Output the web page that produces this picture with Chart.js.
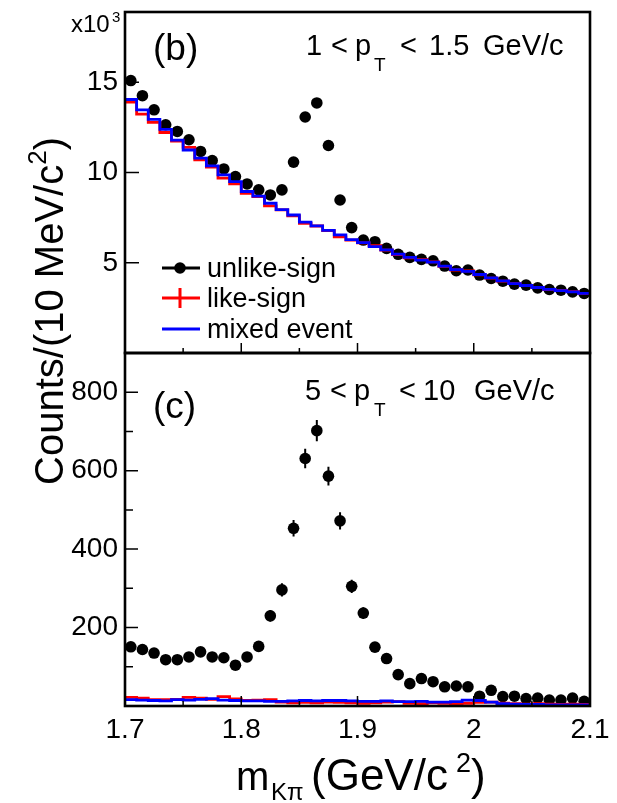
<!DOCTYPE html>
<html>
<head>
<meta charset="utf-8">
<script src="https://cdn.jsdelivr.net/npm/chart.js@4.4.1/dist/chart.umd.min.js"></script>
<style>
  html, body { margin: 0; padding: 0; background: #fff; }
  #wrap { position: relative; width: 617px; height: 803px; }
  canvas { position: absolute; left: 0; top: 0; }
</style>
</head>
<body>
<div id="wrap">
  <canvas id="topPanel" width="617" height="803"></canvas>
  <canvas id="bottomPanel" width="617" height="803"></canvas>
</div>
<script>
// bin centres of m(K pi), 10 MeV bins from 1.7 to 2.1 GeV/c^2
const mass = [1.705, 1.715, 1.725, 1.735, 1.745, 1.755, 1.765, 1.775, 1.785, 1.795,
              1.805, 1.815, 1.825, 1.835, 1.845, 1.855, 1.865, 1.875, 1.885, 1.895,
              1.905, 1.915, 1.925, 1.935, 1.945, 1.955, 1.965, 1.975, 1.985, 1.995,
              2.005, 2.015, 2.025, 2.035, 2.045, 2.055, 2.065, 2.075, 2.085, 2.095];
const binWidth = 0.01;

// panel (b), 1 < pT < 1.5 GeV/c, counts x10^3
const unlikeB = [15.1, 14.26, 13.48, 12.65, 12.28, 11.82, 11.17, 10.67, 10.2, 9.78,
                 9.37, 9.04, 8.76, 9.04, 10.58, 13.08, 13.86, 11.5, 8.48, 6.95,
                 6.26, 6.17, 5.8, 5.47, 5.3, 5.19, 5.11, 4.82, 4.56, 4.6,
                 4.32, 4.13, 3.98, 3.82, 3.76, 3.61, 3.52, 3.48, 3.39, 3.3];
const likeB = [13.9, 13.24, 12.78, 12.22, 11.75, 11.4, 10.7, 10.3, 9.69, 9.37,
               8.85, 8.67, 8.15, 7.93, 7.6, 7.19, 7.04, 6.78, 6.44, 6.26,
               6.1, 5.95, 5.7, 5.45, 5.28, 5.17, 5.05, 4.8, 4.6, 4.55,
               4.33, 4.15, 3.98, 3.85, 3.75, 3.62, 3.52, 3.47, 3.4, 3.3];
const mixedB = [14.05, 13.48, 12.95, 12.4, 11.8, 11.25, 10.8, 10.37, 9.87, 9.5,
                8.95, 8.7, 8.3, 7.95, 7.65, 7.25, 7.05, 6.8, 6.55, 6.28,
                6.12, 5.9, 5.72, 5.48, 5.3, 5.15, 5.04, 4.82, 4.62, 4.52,
                4.35, 4.16, 4.0, 3.84, 3.74, 3.63, 3.53, 3.46, 3.39, 3.31];

// panel (c), 5 < pT < 10 GeV/c, counts
const unlikeC = [151, 144, 135, 118, 118, 125, 138, 125, 123, 104,
                 125, 152, 230, 296, 453, 631, 702, 586, 472, 305,
                 237, 150, 121, 80, 57, 70, 62, 49, 51, 49,
                 25, 40, 24, 25, 19, 20, 15, 15, 20, 12];
const unlikeCErr = [12, 12, 12, 11, 11, 11, 12, 11, 11, 10,
                    11, 12, 15, 17, 21, 25, 27, 24, 22, 17,
                    15, 12, 11, 9, 8, 8, 8, 7, 7, 7,
                    5, 6, 5, 5, 4, 4, 4, 4, 4, 3];
const likeC = [22, 20, 16, 16, 17, 22, 20, 17, 24, 18,
               14, 15, 16, 10, 8, 9, 8, 10, 9, 8,
               7, 8, 10, 11, 7, 6, 8, 7, 6, 7,
               9, 10, 7, 6, 5, 6, 5, 4, 5, 4];
const mixedC = [16, 15, 14, 13, 16, 15, 17, 19, 15, 14,
                13, 13, 12, 12, 13, 14, 13, 14, 14, 13,
                12, 12, 13, 11, 11, 12, 10, 10, 11, 15,
                14, 10, 6, 5, 4, 4, 3, 3, 3, 3];

const FONT = '"Liberation Sans", Arial, Helvetica, sans-serif';
const W = 617, H = 803;
const AREA_L = 125, AREA_R = 590;

function points(ys) {
  return mass.map((m, i) => ({ x: m, y: ys[i] }));
}
// histogram as steps over bin edges
function steps(ys) {
  const d = mass.map((m, i) => ({ x: m - binWidth / 2, y: ys[i] }));
  d.push({ x: mass[mass.length - 1] + binWidth / 2, y: ys[ys.length - 1] });
  return d;
}

function histSet(ys, color) {
  return {
    type: 'line', data: steps(ys), stepped: 'before',
    borderColor: color, borderWidth: 2.8, pointRadius: 0, fill: false
  };
}
function dotSet(ys) {
  return {
    type: 'scatter', data: points(ys),
    pointRadius: 5.8, pointBackgroundColor: '#000', pointBorderWidth: 0,
    borderColor: '#000'
  };
}

function drawParts(ctx, parts) {
  parts.forEach(p => {
    ctx.font = p.size + 'px ' + FONT;
    ctx.fillText(p.t, p.x, p.y);
  });
}

function isStep(v, step) {
  return Math.abs(v / step - Math.round(v / step)) < 1e-6;
}

// ROOT-like frame with inward ticks
function frameTicks(cfg) {
  return {
    id: 'frameTicks',
    afterDatasetsDraw(chart) {
      const { ctx, chartArea: a } = chart;
      const xs = chart.scales.x, ys = chart.scales.y;
      ctx.save();
      ctx.strokeStyle = '#000';
      ctx.lineWidth = 1.5;
      ctx.beginPath();
      ys.ticks.map(t => t.value).filter(v => isStep(v, cfg.yStep)).forEach(v => {
        const py = ys.getPixelForValue(v);
        if (py > a.top + 1 && py < a.bottom - 1) {
          ctx.moveTo(a.left, py); ctx.lineTo(a.left + cfg.yMajor, py);
        }
        if (cfg.yMinor && v + cfg.yStep / 2 < ys.max) {
          const pm = ys.getPixelForValue(v + cfg.yStep / 2);
          ctx.moveTo(a.left, pm); ctx.lineTo(a.left + cfg.yMinor, pm);
        }
      });
      xs.ticks.map(t => t.value).filter(v => isStep(v, 0.1)).forEach(v => {
        const px = xs.getPixelForValue(v);
        if (px > a.left + 1 && px < a.right - 1) {
          ctx.moveTo(px, a.bottom); ctx.lineTo(px, a.bottom - cfg.xMajor);
        }
        if (v + 0.05 < xs.max) {
          const pm = xs.getPixelForValue(v + 0.05);
          ctx.moveTo(pm, a.bottom); ctx.lineTo(pm, a.bottom - cfg.xMinor);
        }
      });
      ctx.stroke();
      ctx.lineWidth = 2.6;
      ctx.strokeRect(a.left, a.top, a.right - a.left, a.bottom - a.top);
      ctx.restore();
    }
  };
}

const errorBars = {
  id: 'errorBars',
  afterDatasetsDraw(chart) {
    const { ctx } = chart;
    const xs = chart.scales.x, ys = chart.scales.y;
    ctx.save();
    ctx.strokeStyle = '#000';
    ctx.lineWidth = 2;
    ctx.beginPath();
    mass.forEach((m, i) => {
      const px = xs.getPixelForValue(m);
      ctx.moveTo(px, ys.getPixelForValue(unlikeC[i] - unlikeCErr[i]));
      ctx.lineTo(px, ys.getPixelForValue(unlikeC[i] + unlikeCErr[i]));
    });
    ctx.stroke();
    ctx.restore();
  }
};

const topText = {
  id: 'topText',
  afterDraw(chart) {
    const ctx = chart.ctx;
    ctx.save();
    ctx.fillStyle = '#000';
    ctx.textBaseline = 'alphabetic';
    drawParts(ctx, [
      { t: 'x10', x: 71, y: 32, size: 24 },
      { t: '3', x: 112, y: 22, size: 15 },
      { t: '(b)', x: 153, y: 60, size: 37 },
      { t: '1', x: 306, y: 55, size: 29 },
      { t: '<', x: 331, y: 55, size: 29 },
      { t: 'p', x: 355, y: 55, size: 29 },
      { t: 'T', x: 374, y: 71, size: 19 },
      { t: '<', x: 400, y: 55, size: 29 },
      { t: '1.5', x: 429, y: 55, size: 29 },
      { t: 'GeV/c', x: 483, y: 55, size: 29 }
    ]);
    // legend
    ctx.lineWidth = 3;
    ctx.strokeStyle = '#000';
    ctx.beginPath(); ctx.moveTo(162, 268); ctx.lineTo(200, 268); ctx.stroke();
    ctx.beginPath(); ctx.arc(180, 268, 5.8, 0, Math.PI * 2); ctx.fill();
    ctx.strokeStyle = '#ff0000';
    ctx.beginPath(); ctx.moveTo(162, 298); ctx.lineTo(200, 298);
    ctx.moveTo(180, 288); ctx.lineTo(180, 308); ctx.stroke();
    ctx.strokeStyle = '#0000ff';
    ctx.beginPath(); ctx.moveTo(162, 329); ctx.lineTo(200, 329); ctx.stroke();
    drawParts(ctx, [
      { t: 'unlike-sign', x: 207, y: 277, size: 27 },
      { t: 'like-sign', x: 207, y: 307, size: 27 },
      { t: 'mixed event', x: 207, y: 338, size: 27 }
    ]);
    ctx.restore();
  }
};

const bottomText = {
  id: 'bottomText',
  afterDraw(chart) {
    const ctx = chart.ctx;
    ctx.save();
    ctx.fillStyle = '#000';
    ctx.textBaseline = 'alphabetic';
    drawParts(ctx, [
      { t: '(c)', x: 153, y: 418, size: 37 },
      { t: '5', x: 305, y: 400, size: 29 },
      { t: '<', x: 330, y: 400, size: 29 },
      { t: 'p', x: 354, y: 400, size: 29 },
      { t: 'T', x: 374, y: 416, size: 19 },
      { t: '<', x: 399, y: 400, size: 29 },
      { t: '10', x: 423, y: 400, size: 29 },
      { t: 'GeV/c', x: 474, y: 400, size: 29 },
      // x title
      { t: 'm', x: 236, y: 790, size: 40 },
      { t: 'K\u03c0', x: 271, y: 800, size: 24 },
      { t: '(GeV/c', x: 311, y: 790, size: 44 },
      { t: '2', x: 456, y: 772, size: 27 },
      { t: ')', x: 471, y: 790, size: 44 }
    ]);
    // y title, rotated, spans both panels
    ctx.translate(63, 311);
    ctx.rotate(-Math.PI / 2);
    ctx.font = '40px ' + FONT;
    const main = 'Counts/(10 MeV/c';
    const wMain = ctx.measureText(main).width;
    ctx.font = '26px ' + FONT;
    const wSup = ctx.measureText('2').width;
    ctx.font = '40px ' + FONT;
    const wEnd = ctx.measureText(')').width;
    const x0 = -(wMain + wSup + wEnd) / 2;
    ctx.fillText(main, x0, 0);
    ctx.font = '26px ' + FONT;
    ctx.fillText('2', x0 + wMain, -17);
    ctx.font = '40px ' + FONT;
    ctx.fillText(')', x0 + wMain + wSup, 0);
    ctx.restore();
  }
};

function noPad(s) {
  s.paddingTop = 0; s.paddingBottom = 0; s.paddingLeft = 0; s.paddingRight = 0;
}

function yAxis(max, step) {
  return {
    min: 0, max: max, bounds: 'data',
    grid: { display: false, drawTicks: false },
    border: { display: false },
    ticks: {
      stepSize: step, includeBounds: false, padding: 7, color: '#000',
      font: { family: FONT, size: 28 },
      callback: v => (v === 0 || !isStep(v, step) ? '' : v)
    },
    afterFit: s => { s.width = AREA_L; noPad(s); }
  };
}

const common = {
  responsive: false, animation: false, events: [],
  plugins: { legend: { display: false }, tooltip: { enabled: false } }
};

new Chart(document.getElementById('topPanel'), {
  data: {
    datasets: [histSet(mixedB, '#0000ff'), histSet(likeB, '#ff0000'), dotSet(unlikeB)]
  },
  options: Object.assign({}, common, {
    layout: { padding: { left: 0, right: W - AREA_R, top: 12, bottom: H - 353 } },
    scales: {
      x: {
        type: 'linear', min: 1.7, max: 2.1, bounds: 'data',
        grid: { display: false, drawTicks: false },
        border: { display: false },
        ticks: { stepSize: 0.1, display: false },
        afterFit: s => { s.height = 0; noPad(s); }
      },
      y: yAxis(18.9, 5)
    }
  }),
  plugins: [frameTicks({ yStep: 5, yMajor: 14, yMinor: 0, xMajor: 10, xMinor: 5 }), topText]
});

new Chart(document.getElementById('bottomPanel'), {
  data: {
    datasets: [histSet(mixedC, '#0000ff'), histSet(likeC, '#ff0000'), dotSet(unlikeC)]
  },
  options: Object.assign({}, common, {
    layout: { padding: { left: 0, right: W - AREA_R, top: 353, bottom: 0 } },
    scales: {
      x: {
        type: 'linear', min: 1.7, max: 2.1, bounds: 'data',
        grid: { display: false, drawTicks: false },
        border: { display: false },
        ticks: {
          stepSize: 0.1, includeBounds: false, padding: 7, color: '#000',
          maxRotation: 0, autoSkip: false,
          font: { family: FONT, size: 28 },
          callback: v => String(+v.toFixed(2))
        },
        afterFit: s => { s.height = H - 706; noPad(s); }
      },
      y: yAxis(900, 200)
    }
  }),
  plugins: [frameTicks({ yStep: 200, yMajor: 13, yMinor: 8, xMajor: 10, xMinor: 5 }), errorBars, bottomText]
});
</script>
</body>
</html>
